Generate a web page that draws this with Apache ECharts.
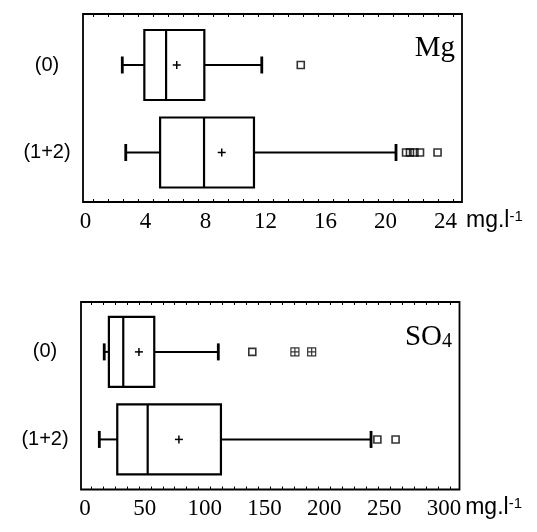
<!DOCTYPE html>
<html><head><meta charset="utf-8">
<script src="https://cdn.jsdelivr.net/npm/echarts@6/dist/echarts.min.js"></script>
<style>html,body{margin:0;padding:0;background:#fff}#c{width:537px;height:532px}</style>
</head><body><div id="c"></div>
<script>
// Groups (y categories)
const groups = ['(0)', '(1+2)'];
// Box statistics: [lower whisker, Q1, median, Q3, upper whisker, mean]
const mgStats0  = [2.45, 3.92, 5.37, 7.92, 11.75, 6.08];
const mgStats12 = [2.68, 4.97, 7.9, 11.23, 20.7, 9.08];
const mgOutliers0  = [14.35];
const mgOutliers12 = [21.37, 21.63, 21.93, 22.3, 23.47];
const so4Stats0  = [16.1, 20.0, 32.0, 57.9, 111.4, 45.1];
const so4Stats12 = [12.0, 27.0, 52.4, 113.6, 239.0, 78.5];
const so4Outliers0 = [139.8];
const so4Coincident0 = [175.4, 189.4];
const so4Outliers12 = [244.3, 259.5];
// Tick labels
const mgTickLabels  = [0, 4, 8, 12, 16, 20, 24];
const so4TickLabels = [0, 50, 100, 150, 200, 250, 300];
const mgMinorTicks = [];  for (let i = 0; i <= 24; i++) mgMinorTicks.push(i + 0.5);
const so4MinorTicks = []; for (let i = 0; i <= 30; i++) so4MinorTicks.push(i * 10 + 5);

const chart = echarts.init(document.getElementById('c'));

function renderBox(params, api) {
  const y = api.value(0);
  const lo = api.coord([api.value(1), y]);
  const q1 = api.coord([api.value(2), y]);
  const md = api.coord([api.value(3), y]);
  const q3 = api.coord([api.value(4), y]);
  const hi = api.coord([api.value(5), y]);
  const mn = api.coord([api.value(6), y]);
  const cy = lo[1];
  const h = 70, cap = 17, p = 4;
  const st = (w) => ({ stroke: '#000', lineWidth: w, fill: 'none' });
  return {
    type: 'group',
    children: [
      { type: 'line', shape: { x1: lo[0], y1: cy, x2: q1[0], y2: cy }, style: st(2) },
      { type: 'line', shape: { x1: q3[0], y1: cy, x2: hi[0], y2: cy }, style: st(2) },
      { type: 'line', shape: { x1: lo[0], y1: cy - cap / 2, x2: lo[0], y2: cy + cap / 2 }, style: st(2.8) },
      { type: 'line', shape: { x1: hi[0], y1: cy - cap / 2, x2: hi[0], y2: cy + cap / 2 }, style: st(2.8) },
      { type: 'rect', shape: { x: q1[0], y: cy - h / 2, width: q3[0] - q1[0], height: h }, style: st(2.2) },
      { type: 'line', shape: { x1: md[0], y1: cy - h / 2, x2: md[0], y2: cy + h / 2 }, style: st(2.2) },
      { type: 'line', shape: { x1: mn[0] - p, y1: cy, x2: mn[0] + p, y2: cy }, style: st(1.5) },
      { type: 'line', shape: { x1: mn[0], y1: cy - p, x2: mn[0], y2: cy + p }, style: st(1.5) }
    ]
  };
}

const unitName = '{a|mg.l}{b|-1}';
const unitStyle = {
  align: 'left', verticalAlign: 'top', padding: [7, 0, 0, 0],
  rich: {
    a: { fontFamily: 'Liberation Sans', fontSize: 23, color: '#000' },
    b: { fontFamily: 'Liberation Sans', fontSize: 15, color: '#000', verticalAlign: 'top' }
  }
};

function xAxisPair(gridIndex, min, max, labels, minor) {
  return [{
    type: 'value', gridIndex, min, max, position: 'bottom',
    axisLine: { show: false, onZero: false }, splitLine: { show: false },
    axisTick: { show: true, inside: true, length: 3, customValues: minor, lineStyle: { color: '#000', width: 1 } },
    axisLabel: { customValues: labels, color: '#000', fontFamily: 'Liberation Serif', fontSize: 23, margin: 8 },
    name: unitName, nameLocation: 'end', nameGap: 4, nameTextStyle: unitStyle
  }, {
    type: 'value', gridIndex, min, max, position: 'top',
    axisLine: { show: false, onZero: false }, splitLine: { show: false },
    axisTick: { show: true, inside: true, length: 3, customValues: minor, lineStyle: { color: '#000', width: 1 } },
    axisLabel: { show: false }
  }];
}

function yAxis(gridIndex, min, max) {
  return {
    type: 'value', gridIndex, inverse: true, min, max,
    axisLine: { show: false, onZero: false }, axisTick: { show: false }, splitLine: { show: false },
    axisLabel: {
      customValues: [0, 1], formatter: (v) => groups[Math.round(v)],
      align: 'center', margin: 36, fontFamily: 'Liberation Sans', fontSize: 20, color: '#000'
    }
  };
}

const sq = { color: 'none', borderColor: '#000', borderWidth: 1.6 };
const plusSq = 'path://M0,0L10,0L10,10L0,10Z M5,0L5,10 M0,5L10,5';

chart.setOption({
  animation: false,
  backgroundColor: '#fff',
  title: [
    { text: 'Mg', right: 82, top: 34, padding: 0,
      textStyle: { fontFamily: 'Liberation Serif', fontSize: 29, fontWeight: 'normal', color: '#000' } },
    { text: '{a|SO}{b|4}', right: 85, top: 323, padding: 0,
      textStyle: { fontWeight: 'normal', rich: {
        a: { fontFamily: 'Liberation Serif', fontSize: 29, fontWeight: 'normal', color: '#000' },
        b: { fontFamily: 'Liberation Serif', fontSize: 20, fontWeight: 'normal', color: '#000', verticalAlign: 'bottom' } } } }
  ],
  grid: [
    { left: 83, top: 14, width: 379, height: 188, show: true, borderColor: '#000', borderWidth: 1.8, backgroundColor: 'transparent' },
    { left: 81, top: 302, width: 378.5, height: 187.5, show: true, borderColor: '#000', borderWidth: 1.8, backgroundColor: 'transparent' }
  ],
  xAxis: [
    ...xAxisPair(0, -0.17, 25.1, mgTickLabels, mgMinorTicks),
    ...xAxisPair(1, -3.3, 312.9, so4TickLabels, so4MinorTicks)
  ],
  yAxis: [yAxis(0, -0.583, 1.566), yAxis(1, -0.57, 1.572)],
  series: [
    { type: 'custom', xAxisIndex: 0, yAxisIndex: 0, renderItem: renderBox,
      encode: { x: [1, 2, 3, 4, 5, 6], y: 0 },
      data: [[0, ...mgStats0], [1, ...mgStats12]] },
    { type: 'scatter', xAxisIndex: 0, yAxisIndex: 0, symbol: 'rect', symbolSize: 7, itemStyle: sq,
      data: mgOutliers0.map(v => [v, 0]).concat(mgOutliers12.map(v => [v, 1])) },
    { type: 'custom', xAxisIndex: 2, yAxisIndex: 1, renderItem: renderBox,
      encode: { x: [1, 2, 3, 4, 5, 6], y: 0 },
      data: [[0, ...so4Stats0], [1, ...so4Stats12]] },
    { type: 'scatter', xAxisIndex: 2, yAxisIndex: 1, symbol: 'rect', symbolSize: 7, itemStyle: sq,
      data: so4Outliers0.map(v => [v, 0]).concat(so4Outliers12.map(v => [v, 1])) },
    { type: 'scatter', xAxisIndex: 2, yAxisIndex: 1, symbol: plusSq, symbolSize: 8,
      itemStyle: { color: 'none', borderColor: '#000', borderWidth: 1.2 },
      data: so4Coincident0.map(v => [v, 0]) }
  ]
});
</script></body></html>
